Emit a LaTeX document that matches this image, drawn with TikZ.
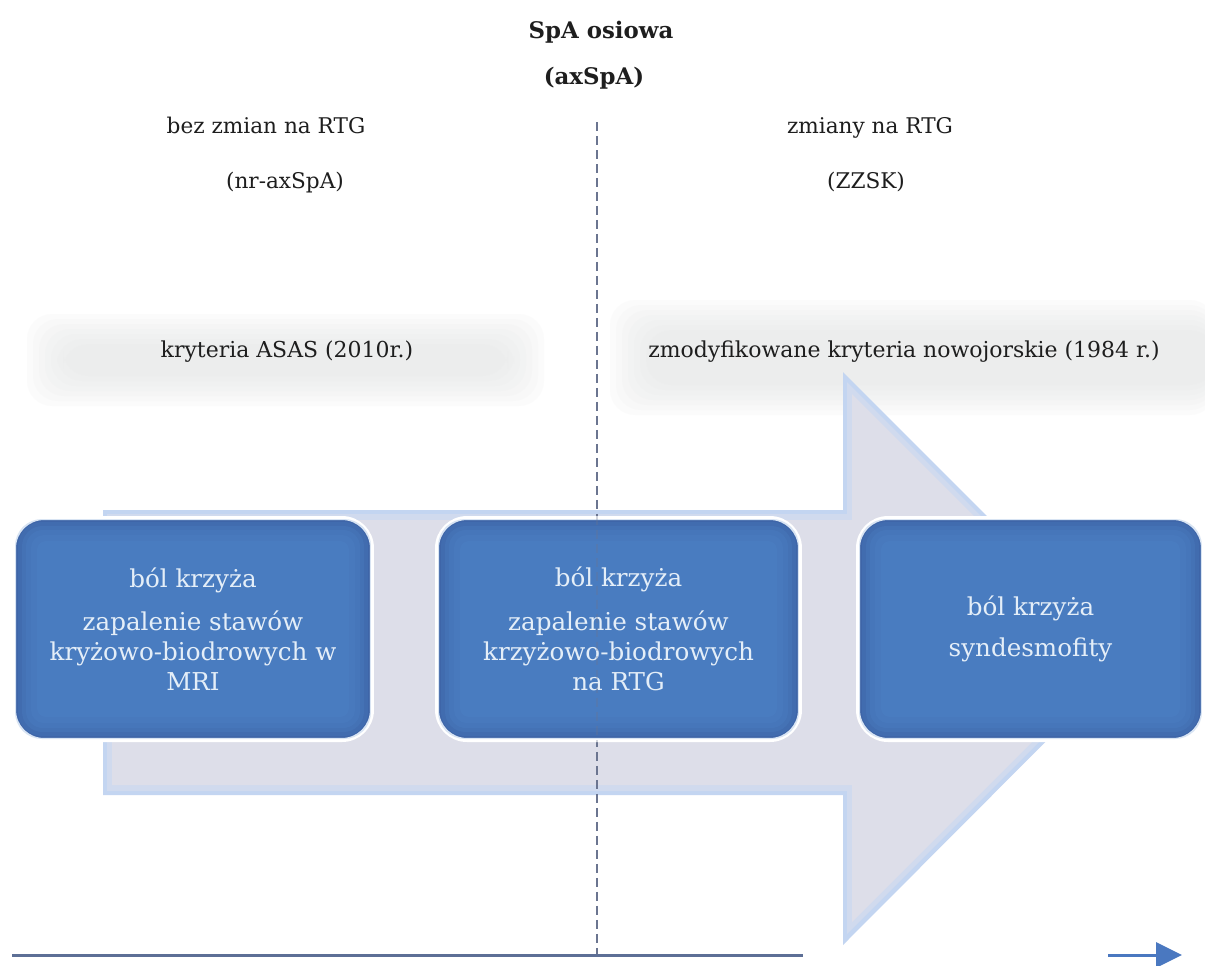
\documentclass[tikz,border=0pt]{standalone}
\usepackage{fontspec}
\setmainfont{DejaVu Serif}
\usetikzlibrary{arrows.meta}

\definecolor{rimblue}{HTML}{3A5C9E}
\definecolor{glowblue}{HTML}{5088CC}
\definecolor{boxtext}{HTML}{E4EEF8}
\definecolor{arrowedge}{HTML}{C3D5F1}
\definecolor{arrowmid}{HTML}{D0DAEE}
\definecolor{arrowcore}{HTML}{DDDEE9}
\definecolor{panelgray}{HTML}{E4E5E5}
\definecolor{axisgray}{HTML}{5D6F96}
\definecolor{axisblue}{HTML}{4A78C0}
\definecolor{dividergray}{HTML}{6B7590}
\definecolor{labeltext}{HTML}{1E1E1E}

\begin{document}
\begin{tikzpicture}[x=0.02cm, y=-0.02cm,
  stagebox/.style={rounded corners=0.6cm, fill=rimblue, draw=white,
    line width=2.3pt, inner sep=0pt, minimum height=4.44cm},
  glow/.style={fill=glowblue, fill opacity=0.22, draw=none},
  stagetext/.style={text=boxtext, align=center,
    font=\fontsize{14}{17}\selectfont},
  toplabel/.style={text=labeltext, anchor=base,
    font=\fontsize{12.3}{14}\selectfont},
  titlelabel/.style={text=labeltext, anchor=base,
    font=\fontsize{13}{15}\selectfont\bfseries},
  criteria/.style={text=labeltext, anchor=base,
    font=\fontsize{12.5}{15}\selectfont},
  panel/.style={fill=panelgray, fill opacity=0.12, draw=none, rounded corners=0.5cm},
  divline/.style={draw=dividergray, line width=0.9pt, dash pattern=on 0.18cm off 0.1cm},
  axisline/.style={draw=axisgray, line width=1.7pt},
  axisarrow/.style={draw=axisblue, line width=1.7pt,
    -{Triangle[length=0.52cm, width=0.5cm]}}
]
% canvas
\fill[white] (0,0) rectangle (1205,965);
\useasboundingbox (0,0) rectangle (1205,965);

% soft grey bands behind the criteria captions (stacked for a blurred edge)
\foreach \i in {0,...,6}{
  \fill[panel] (27+6*\i,314+5*\i) rectangle (544-6*\i,406-5*\i);
  \fill[panel] (610+6*\i,300+5*\i) rectangle (1215,415-5*\i);
}

% big block arrow behind the stages
\fill[arrowedge] (103,510) -- (843,510) -- (843,372) -- (1129,658)
  -- (843,945) -- (843,795) -- (103,795) -- cycle;
\fill[arrowmid] (107,514) -- (847,514) -- (847,382) -- (1123,658)
  -- (847,934) -- (847,791) -- (107,791) -- cycle;
\fill[arrowcore] (112,520) -- (852,520) -- (852,394) -- (1116,658)
  -- (852,922) -- (852,785) -- (112,785) -- cycle;

% headings
\node[titlelabel] (osiowa) at (601,38) {SpA osiowa};
\node[titlelabel] (axspa) at (594,84) {(axSpA)};
\node[toplabel] (bezzmian) at (266,133) {bez zmian na RTG};
\node[toplabel] (nraxspa) at (285,188) {(nr-axSpA)};
\node[toplabel] (zmiany) at (870,133) {zmiany na RTG};
\node[toplabel] (zzsk) at (866,188) {(ZZSK)};
\node[criteria] (asas) at (287,357) {kryteria ASAS (2010r.)};
\node[criteria] (nowojorskie) at (904,357) {zmodyfikowane kryteria nowojorskie (1984 r.)};

% dashed divider between the two groups
\coordinate (divTop) at (597,122);
\coordinate (divBot) at (597,955);
\draw[divline] (divTop) -- (divBot);

% stage boxes
\node[stagebox, minimum width=7.16cm] (b1) at (193,629) {};
\node[stagebox, minimum width=7.26cm] (b2) at (618.5,629) {};
\node[stagebox, minimum width=6.90cm] (b3) at (1030.5,629) {};

% inner glow, built from stacked translucent insets
\foreach \b in {b1,b2,b3}{
  \foreach \d/\r in {3/0.54,6/0.48,10/0.41,14/0.34,19/0.26,25/0.18}{
    \fill[glow, rounded corners=\r cm] ([shift={(\d,\d)}]\b.north west) rectangle ([shift={(-\d,-\d)}]\b.south east);
  }
}

\node[stagetext] (t1) at (b1) {ból krzyża\\[8pt]zapalenie stawów\\kryżowo-biodrowych w\\MRI};
\node[stagetext] (t2) at (b2) {ból krzyża\\[8pt]zapalenie stawów\\krzyżowo-biodrowych\\na RTG};
\node[stagetext] (t3) at (b3) {ból krzyża\\[6pt]syndesmofity};

% divider shows faintly through the middle box
\draw[divline, opacity=0.3] (divTop |- b2.north) -- (divTop |- b2.south);

% time axis
\coordinate (axL) at (12,955);
\coordinate (axR) at (803,955);
\draw[axisline] (axL) -- (axR);
\coordinate (arL) at (1108,955);
\coordinate (arR) at (1182,955);
\draw[axisarrow] (arL) -- (arR);
\end{tikzpicture}
\end{document}
